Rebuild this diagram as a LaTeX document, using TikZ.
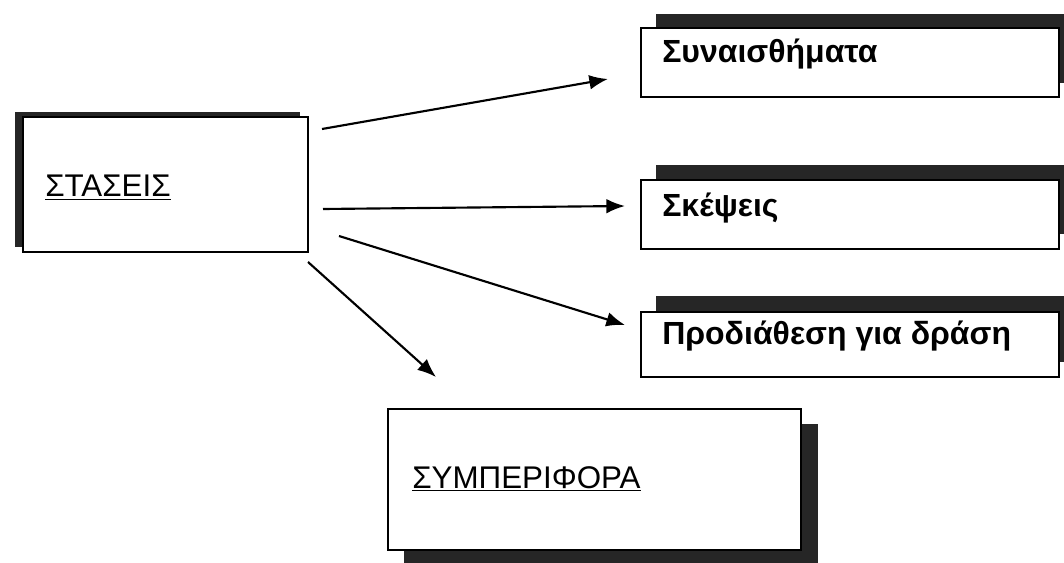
\documentclass[tikz,border=0pt]{standalone}
\usepackage{fontspec}
\setmainfont{Liberation Sans}
\usetikzlibrary{arrows.meta,fit}
\begin{document}
\begin{tikzpicture}[x=0.75pt,y=-0.75pt,
  box/.style={draw=black, line width=1.5pt, fill=white, rectangle, inner sep=0pt},
  shadowfill/.style={fill=black!85},
  arr/.style={line width=1.6pt, -{Latex[length=14pt,width=11pt]}},
  lbl/.style={anchor=base west, inner sep=0pt, font=\bfseries\fontsize{24}{28}\selectfont},
  ulbl/.style={anchor=base west, inner sep=0pt, font=\fontsize{23.5}{27}\selectfont}]
\useasboundingbox (0,0) rectangle (1064,563);
\clip (0,0) rectangle (1064,563);
% shadows
\fill[shadowfill] (15,112) rectangle (300,247);
\fill[shadowfill] (656,14) rectangle (1074,83);
\fill[shadowfill] (656,165) rectangle (1074,234);
\fill[shadowfill] (656,296) rectangle (1074,362);
\fill[shadowfill] (404,424) rectangle (818,566);
% boxes
\node[box, fit={(23,117) (308,252)}] (stas) {};
\node[box, fit={(641,28) (1059,97)}] (emo) {};
\node[box, fit={(641,180) (1059,249)}] (tho) {};
\node[box, fit={(641,312) (1059,377)}] (pre) {};
\node[box, fit={(388,409) (801,550)}] (beh) {};
% texts
\node[ulbl] (tstas) at (45,197) {\underline{ΣΤΑΣΕΙΣ}};
\node[lbl] (temo) at (662,63) {Συναισθήματα};
\node[lbl] (ttho) at (662,217) {Σκέψεις};
\node[lbl] (tpre) at (662,344) {Προδιάθεση για δράση};
\node[ulbl] (tbeh) at (412,488) {\underline{ΣΥΜΠΕΡΙΦΟΡΑ}};
% arrow ends
\coordinate (s1) at (322,129);
\coordinate (e1) at (608,79);
\coordinate (s2) at (323,209);
\coordinate (e2) at (625,206);
\coordinate (s3) at (339,236);
\coordinate (e3) at (625,325);
\coordinate (s4) at (308,262);
\coordinate (e4) at (436,377);
\draw[arr] (s1) -- (e1);
\draw[arr] (s2) -- (e2);
\draw[arr] (s3) -- (e3);
\draw[arr] (s4) -- (e4);
\end{tikzpicture}
\end{document}
